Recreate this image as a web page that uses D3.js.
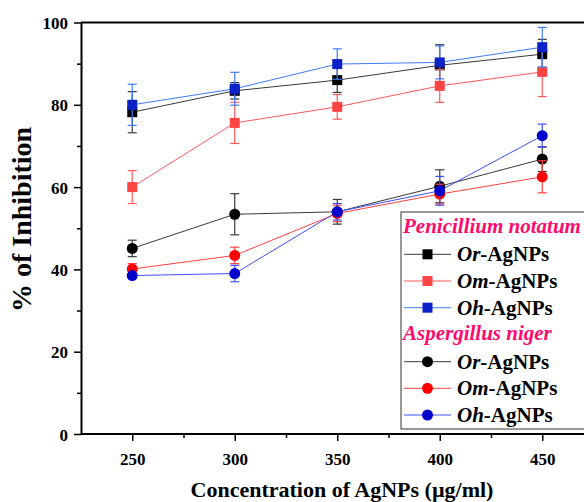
<!DOCTYPE html>
<html>
<head>
<meta charset="utf-8">
<script src="https://cdn.jsdelivr.net/npm/d3@7"></script>
<style>
  body { margin: 0; background: #fff; }
  svg text { font-family: "Times New Roman", "Liberation Serif", "DejaVu Serif", serif; font-weight: bold; }
</style>
</head>
<body>
<div id="chart"></div>
<script>
// concentrations (x) and % inhibition per series, with error values
var conc = [250, 300, 350, 400, 450];

var pnOr = [78.2, 83.4, 86.0, 89.6, 92.3], pnOrErr = [5, 2, 3, 5, 3.6];
var pnOm = [60.0, 75.6, 79.5, 84.6, 88.0], pnOmErr = [4, 5, 3, 4, 6];
var pnOh = [80.0, 83.9, 89.9, 90.3, 94.0], pnOhErr = [5, 4, 3.7, 4, 4.8];

var anOr = [45.1, 53.4, 54.0, 60.2, 66.8], anOrErr = [2, 5, 3, 4, 3];
var anOm = [40.1, 43.4, 53.6, 58.3, 62.5], anOmErr = [1.3, 2, 2, 2.4, 3.9];
var anOh = [38.5, 39.0, 54.0, 59.1, 72.5], anOhErr = [0.5, 2, 2, 3.5, 2.8];

var yTicks = [0, 20, 40, 60, 80, 100];
var xTicks = [250, 300, 350, 400, 450];

var serifFont = '"Times New Roman", "Liberation Serif", "DejaVu Serif", serif';

var series = [
  {name: 'Or', vals: pnOr, err: pnOrErr, shape: 'square', fill: '#000000', line: '#3a3a3a'},
  {name: 'Om', vals: pnOm, err: pnOmErr, shape: 'square', fill: '#ff4444', line: '#ff5a5a'},
  {name: 'Oh', vals: pnOh, err: pnOhErr, shape: 'square', fill: '#0a22c8', line: '#3f7bff'},
  {name: 'Or', vals: anOr, err: anOrErr, shape: 'circle', fill: '#000000', line: '#3a3a3a'},
  {name: 'Om', vals: anOm, err: anOmErr, shape: 'circle', fill: '#ff0000', line: '#ff4040'},
  {name: 'Oh', vals: anOh, err: anOhErr, shape: 'circle', fill: '#0000cc', line: '#4050ff'}
];

var w = 584, h = 502;
var svg = d3.select('#chart').append('svg')
  .attr('width', w)
  .attr('height', h);

var x = d3.scaleLinear().domain([225, 475]).range([81, 593.5]);
var y = d3.scaleLinear().domain([0, 100]).range([434, 22.5]);

// frame (top line runs off the right edge)
svg.append('line')
  .attr('x1', x(225)).attr('x2', w + 10)
  .attr('y1', y(100)).attr('y2', y(100))
  .attr('stroke', '#000').attr('stroke-width', 2);

// minor ticks
svg.append('g')
  .attr('transform', 'translate(0,' + y(0) + ')')
  .call(d3.axisBottom(x).tickValues([275, 325, 375, 425]).tickSize(4).tickFormat(''))
  .call(function(g) { g.select('.domain').remove(); g.selectAll('line').attr('stroke-width', 1.5); });
svg.append('g')
  .attr('transform', 'translate(' + x(225) + ',0)')
  .call(d3.axisLeft(y).tickValues([10, 30, 50, 70, 90]).tickSize(4).tickFormat(''))
  .call(function(g) { g.select('.domain').remove(); g.selectAll('line').attr('stroke-width', 1.5); });

// major axes
var xAxis = svg.append('g')
  .attr('transform', 'translate(0,' + y(0) + ')')
  .call(d3.axisBottom(x).tickValues(xTicks).tickSize(7).tickSizeOuter(0).tickPadding(12));
var yAxis = svg.append('g')
  .attr('transform', 'translate(' + x(225) + ',0)')
  .call(d3.axisLeft(y).tickValues(yTicks).tickSize(7).tickSizeOuter(0).tickPadding(6));

[xAxis, yAxis].forEach(function(g) {
  g.attr('font-family', serifFont);
  g.select('.domain').attr('stroke-width', 2);
  g.selectAll('.tick line').attr('stroke-width', 1.5);
  g.selectAll('.tick text')
    .attr('fill', '#000')
    .attr('font-family', serifFont)
    .style('font-weight', 'bold')
    .style('font-size', '17px');
});
xAxis.select('.domain').attr('d', 'M' + x(225) + ',0H' + (w + 10));
yAxis.selectAll('.tick text').attr('dy', '0.36em');

// series
var line = d3.line()
  .x(function(d) { return x(d[0]); })
  .y(function(d) { return y(d[1]); });

series.forEach(function(s) {
  var pts = conc.map(function(c, i) { return [c, s.vals[i], s.err[i]]; });
  var g = svg.append('g');

  g.append('path')
    .attr('d', line(pts))
    .attr('fill', 'none')
    .attr('stroke', s.line)
    .attr('stroke-width', 1);

  var eb = g.selectAll('.eb').data(pts).enter().append('g');
  eb.append('line')
    .attr('x1', function(d) { return x(d[0]); })
    .attr('x2', function(d) { return x(d[0]); })
    .attr('y1', function(d) { return y(d[1] + d[2]); })
    .attr('y2', function(d) { return y(d[1] - d[2]); })
    .attr('stroke', s.line).attr('stroke-width', 1.2);
  [1, -1].forEach(function(sign) {
    eb.append('line')
      .attr('x1', function(d) { return x(d[0]) - 4.5; })
      .attr('x2', function(d) { return x(d[0]) + 4.5; })
      .attr('y1', function(d) { return y(d[1] + sign * d[2]); })
      .attr('y2', function(d) { return y(d[1] + sign * d[2]); })
      .attr('stroke', s.line).attr('stroke-width', 1.2);
  });

  if (s.shape === 'square') {
    g.selectAll('rect').data(pts).enter().append('rect')
      .attr('x', function(d) { return x(d[0]) - 5; })
      .attr('y', function(d) { return y(d[1]) - 5; })
      .attr('width', 10).attr('height', 10)
      .attr('fill', s.fill);
  } else {
    g.selectAll('circle').data(pts).enter().append('circle')
      .attr('cx', function(d) { return x(d[0]); })
      .attr('cy', function(d) { return y(d[1]); })
      .attr('r', 5.5)
      .attr('fill', s.fill);
  }
});

// legend
var lg = svg.append('g').attr('font-family', serifFont);
lg.append('rect')
  .attr('x', 401).attr('y', 212)
  .attr('width', 250).attr('height', 217)
  .attr('fill', '#fff').attr('stroke', '#333').attr('stroke-width', 1);

var titles = [{text: 'Penicillium notatum', y: 233}, {text: 'Aspergillus niger', y: 340}];
titles.forEach(function(t) {
  lg.append('text')
    .attr('x', 403).attr('y', t.y)
    .attr('fill', '#ff0a6c')
    .style('font-style', 'italic')
    .style('font-size', '21px')
    .text(t.text);
});

var rowY = [254.3, 281, 307.7, 361.7, 388.3, 415];
series.forEach(function(s, i) {
  var cy = rowY[i];
  lg.append('line')
    .attr('x1', 404).attr('x2', 451)
    .attr('y1', cy).attr('y2', cy)
    .attr('stroke', s.line).attr('stroke-width', 1);
  if (s.shape === 'square') {
    lg.append('rect')
      .attr('x', 427.5 - 5).attr('y', cy - 5)
      .attr('width', 10).attr('height', 10)
      .attr('fill', s.fill);
  } else {
    lg.append('circle')
      .attr('cx', 427.5).attr('cy', cy).attr('r', 5.5)
      .attr('fill', s.fill);
  }
  var t = lg.append('text')
    .attr('x', 457).attr('y', cy + 7)
    .attr('fill', '#000')
    .style('font-size', '21px');
  t.append('tspan').style('font-style', 'italic').text(s.name);
  t.append('tspan').text('-AgNPs');
});

// axis titles
svg.append('text')
  .attr('x', 342).attr('y', 497)
  .attr('text-anchor', 'middle')
  .style('font-size', '22px')
  .text('Concentration of AgNPs (\u00b5g/ml)');

svg.append('text')
  .attr('transform', 'translate(31,219.5) rotate(-90)')
  .attr('text-anchor', 'middle')
  .style('font-size', '28px')
  .text('% of Inhibition');
</script>
</body>
</html>
